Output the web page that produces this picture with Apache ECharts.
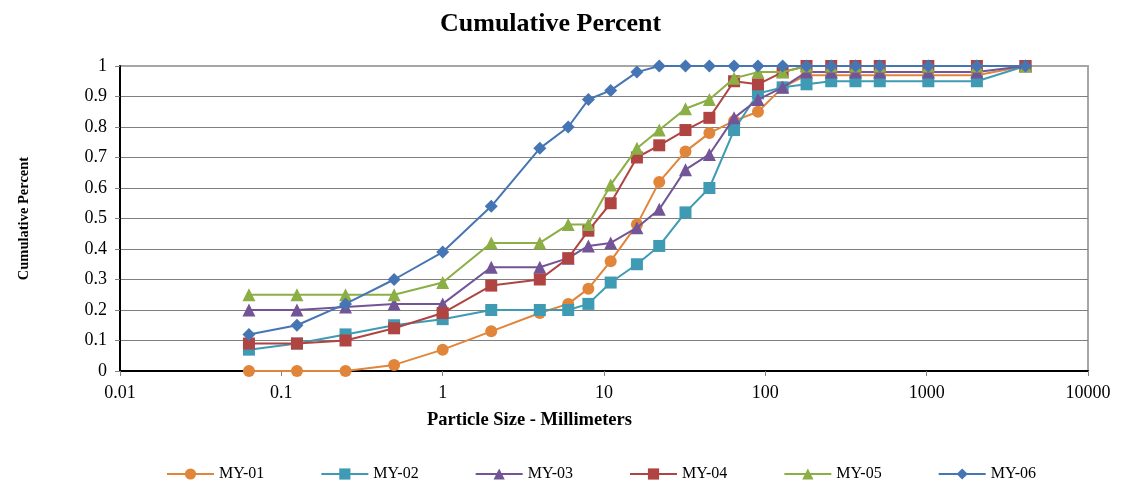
<!DOCTYPE html>
<html>
<head>
<meta charset="utf-8">
<title>Cumulative Percent</title>
<script src="https://cdn.jsdelivr.net/npm/echarts@6/dist/echarts.min.js"></script>
<style>
  html, body { margin: 0; padding: 0; background: #ffffff; }
  #chart { width: 1131px; height: 487px; }
</style>
</head>
<body>
<div id="chart"></div>
<script>
// Sieve sizes (mm) and cumulative passing fraction per sample
const sizes = [0.063, 0.125, 0.25, 0.5, 1, 2, 4, 6, 8, 11, 16, 22, 32, 45, 64, 90, 128, 180, 256, 362, 512, 1024, 2048, 4096];

const my01 = [0, 0, 0, 0.02, 0.07, 0.13, 0.19, 0.22, 0.27, 0.36, 0.48, 0.62, 0.72, 0.78, 0.82, 0.85, 0.93, 0.97, 0.97, 0.97, 0.97, 0.97, 0.97, 1];
const my02 = [0.07, 0.09, 0.12, 0.15, 0.17, 0.20, 0.20, 0.20, 0.22, 0.29, 0.35, 0.41, 0.52, 0.60, 0.79, 0.91, 0.93, 0.94, 0.95, 0.95, 0.95, 0.95, 0.95, 1];
const my03 = [0.20, 0.20, 0.21, 0.22, 0.22, 0.34, 0.34, 0.37, 0.41, 0.42, 0.47, 0.53, 0.66, 0.71, 0.83, 0.89, 0.93, 0.98, 0.98, 0.98, 0.98, 0.98, 0.98, 1];
const my04 = [0.09, 0.09, 0.10, 0.14, 0.19, 0.28, 0.30, 0.37, 0.46, 0.55, 0.70, 0.74, 0.79, 0.83, 0.95, 0.94, 0.98, 1, 1, 1, 1, 1, 1, 1];
const my05 = [0.25, 0.25, 0.25, 0.25, 0.29, 0.42, 0.42, 0.48, 0.48, 0.61, 0.73, 0.79, 0.86, 0.89, 0.96, 0.98, 0.98, 1, 1, 1, 1, 1, 1, 1];
const my06 = [0.12, 0.15, 0.22, 0.30, 0.39, 0.54, 0.73, 0.80, 0.89, 0.92, 0.98, 1, 1, 1, 1, 1, 1, 1, 1, 1, 1, 1, 1, 1];

const seriesNames = ['MY-01', 'MY-02', 'MY-03', 'MY-04', 'MY-05', 'MY-06'];
const xTickLabels = ['0.01', '0.1', '1', '10', '100', '1000', '10000'];
const yTickLabels = ['0', '0.1', '0.2', '0.3', '0.4', '0.5', '0.6', '0.7', '0.8', '0.9', '1'];

const FONT = '"Liberation Serif", "Times New Roman", serif';

const styles = [
  { color: '#E0853A', symbol: 'circle',   size: 12 },
  { color: '#3E9BB3', symbol: 'rect',     size: 12 },
  { color: '#725497', symbol: 'triangle', size: 13 },
  { color: '#B04442', symbol: 'rect',     size: 12 },
  { color: '#8BAE45', symbol: 'triangle', size: 13 },
  { color: '#4675B4', symbol: 'diamond',  size: 13 }
];

const values = [my01, my02, my03, my04, my05, my06];

const series = values.map((vals, i) => ({
  name: seriesNames[i],
  type: 'line',
  data: sizes.map((s, j) => [s, vals[j]]),
  symbol: styles[i].symbol,
  symbolSize: styles[i].size,
  showAllSymbol: true,
  lineStyle: { color: styles[i].color, width: 2 },
  itemStyle: { color: styles[i].color },
  emphasis: { disabled: true },
  animation: false,
  z: 2 + i
}));

const gridColors = yTickLabels.map((_, i) => (i === yTickLabels.length - 1 ? '#a6a6a6' : '#7f7f7f'));

const chart = echarts.init(document.getElementById('chart'), null, { renderer: 'canvas' });

chart.setOption({
  backgroundColor: '#ffffff',
  animation: false,
  title: {
    text: 'Cumulative Percent',
    left: 435,
    top: 6,
    textStyle: { fontFamily: FONT, fontSize: 26, fontWeight: 'bold', color: '#000000' }
  },
  legend: {
    data: seriesNames,
    left: 161,
    top: 461,
    itemWidth: 47,
    itemHeight: 14,
    itemGap: 56,
    textStyle: { fontFamily: FONT, fontSize: 16, color: '#000000' }
  },
  grid: {
    left: 120,
    right: 43,
    top: 66,
    bottom: 116,
    show: true,
    borderColor: '#a6a6a6',
    borderWidth: 2,
    backgroundColor: 'transparent'
  },
  xAxis: {
    type: 'log',
    logBase: 10,
    min: 0.01,
    max: 10000,
    name: 'Particle Size - Millimeters',
    nameLocation: 'middle',
    nameGap: 40,
    nameTextStyle: {
      fontFamily: FONT, fontSize: 18.5, fontWeight: 'bold', color: '#000000',
      padding: [0, 149, 0, 0]
    },
    axisLine: { show: true, onZero: false, lineStyle: { color: '#000000', width: 2 } },
    axisTick: { show: true, inside: false, length: 5, lineStyle: { color: '#808080' } },
    minorTick: { show: false },
    splitLine: { show: false },
    axisLabel: {
      fontFamily: FONT, fontSize: 18, color: '#000000', margin: 13,
      formatter: v => xTickLabels[Math.round(Math.log10(v)) + 2]
    }
  },
  yAxis: {
    type: 'value',
    min: 0,
    max: 1,
    interval: 0.1,
    name: 'Cumulative Percent',
    nameLocation: 'middle',
    nameGap: 88,
    nameTextStyle: { fontFamily: FONT, fontSize: 14.5, fontWeight: 'bold', color: '#000000' },
    axisLine: { show: true, lineStyle: { color: '#000000', width: 2 } },
    axisTick: { show: true, inside: false, length: 5, lineStyle: { color: '#808080' } },
    splitLine: { show: true, lineStyle: { color: gridColors, width: 1 } },
    axisLabel: {
      fontFamily: FONT, fontSize: 18, color: '#000000', margin: 13,
      formatter: v => yTickLabels[Math.round(v * 10)]
    }
  },
  series: series
});
</script>
</body>
</html>
